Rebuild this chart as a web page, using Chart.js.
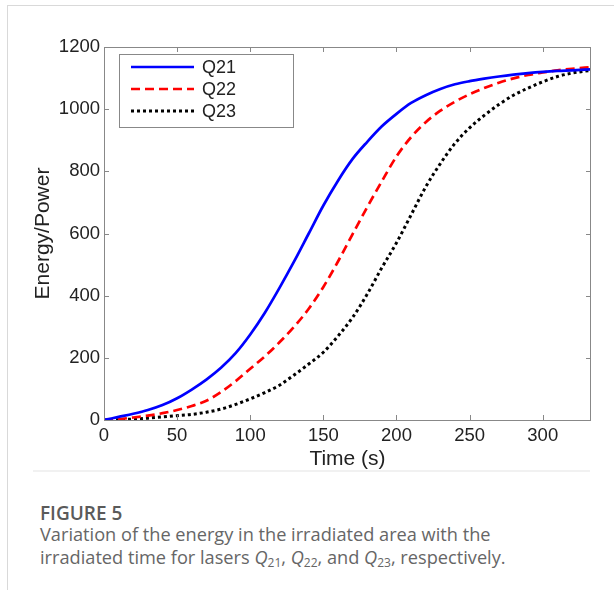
<!DOCTYPE html>
<html lang="en">
<head>
  <meta charset="UTF-8">
  <title>Figure 5 - Energy vs irradiated time</title>
  <script src="https://cdn.jsdelivr.net/npm/chart.js"></script>
  <style>
    body { margin: 0; background: #fff; width: 614px; height: 590px; overflow: hidden; position: relative; }
    .frame { position: absolute; left: 7px; top: 5px; right: 0; bottom: 0; border-left: 1px solid #d9d9d9; border-top: 1px solid #d9d9d9; }
    #chartBox { position: absolute; left: 8px; top: 6px; width: 600px; height: 470px; }
    .sep { position: absolute; left: 33px; top: 470px; width: 557px; height: 2px; background: #f1f1f1; }
    .caption { position: absolute; left: 40px; top: 503px; font-family: "Open Sans", sans-serif; color: #666; font-size: 18.2px; line-height: 23px; }
    .caption b { display: block; color: #5a5a5a; font-weight: 600; font-size: 19px; line-height: 20px; }
    .caption i { font-style: italic; }
    .caption sub { font-size: 12px; vertical-align: -3px; line-height: 0; }
  </style>
</head>
<body>
  <div class="frame"></div>
  <div id="chartBox"><canvas id="energyChart" width="600" height="470"></canvas></div>
  <div class="sep"></div>
  <div class="caption">
    <b>FIGURE 5</b>
    Variation of the energy in the irradiated area with the<br>
    irradiated time for lasers <i>Q</i><sub>21</sub>, <i>Q</i><sub>22</sub>, and <i>Q</i><sub>23</sub>, respectively.
  </div>
  <script>
    // values (time in s)
    const times = [0, 10, 20, 30, 40, 50, 60, 70, 80, 90, 100, 110, 120, 130, 140, 150, 160, 170,
                   180, 190, 200, 210, 220, 230, 240, 250, 260, 270, 280, 290, 300, 310, 320, 333];
    const q21 = [0, 10, 20, 32, 48, 70, 98, 130, 168, 215, 275, 345, 425, 510, 600, 690, 770, 840,
                 895, 945, 985, 1020, 1045, 1065, 1080, 1090, 1098, 1105, 1111, 1116, 1120, 1123, 1125, 1128];
    const q22 = [0, 3, 8, 14, 22, 32, 45, 62, 90, 125, 165, 205, 250, 300, 358, 428, 510, 598,
                 685, 768, 848, 910, 958, 995, 1024, 1048, 1068, 1085, 1099, 1110, 1118, 1125, 1130, 1135];
    const q23 = [0, 1, 3, 6, 10, 14, 18, 25, 35, 50, 68, 88, 112, 145, 180, 218, 270, 330,
                 405, 490, 570, 660, 750, 825, 890, 940, 980, 1015, 1045, 1068, 1088, 1105, 1116, 1125];
    const seriesNames = ['Q21', 'Q22', 'Q23'];
    const xTicks = [0, 50, 100, 150, 200, 250, 300];
    const yTicks = [0, 200, 400, 600, 800, 1000, 1200];

    const toPoints = (vals) => vals.map((v, i) => ({ x: times[i], y: v }));
    const fontFamily = 'Liberation Sans, Arial, sans-serif';
    const axisFont = { family: fontFamily, size: 18.5 };
    const titleFont = { family: fontFamily, size: 21 };

    // matlab style box with inward ticks, legend inside the axes
    const boxPlugin = {
      id: 'boxTicks',
      afterDraw(chart) {
        const ctx = chart.ctx;
        const a = chart.chartArea;
        const xs = chart.scales.x, ys = chart.scales.y;
        ctx.save();
        ctx.strokeStyle = '#888';
        ctx.lineWidth = 1;
        ctx.strokeRect(a.left + 0.5, a.top + 0.5, a.right - a.left - 1, a.bottom - a.top);
        ctx.beginPath();
        xTicks.forEach(t => {
          const px = Math.round(xs.getPixelForValue(t)) + 0.5;
          ctx.moveTo(px, a.bottom); ctx.lineTo(px, a.bottom - 5);
          ctx.moveTo(px, a.top); ctx.lineTo(px, a.top + 5);
        });
        yTicks.forEach(t => {
          const py = Math.round(ys.getPixelForValue(t)) + 0.5;
          ctx.moveTo(a.left, py); ctx.lineTo(a.left + 5, py);
          ctx.moveTo(a.right, py); ctx.lineTo(a.right - 5, py);
        });
        ctx.stroke();

        // legend
        const lx = a.left + 15, ly = a.top + 7, lw = 174, lh = 73;
        ctx.fillStyle = '#fff';
        ctx.fillRect(lx, ly, lw, lh);
        ctx.strokeStyle = '#888';
        ctx.strokeRect(lx + 0.5, ly + 0.5, lw, lh);
        ctx.font = '18px ' + fontFamily;
        ctx.textBaseline = 'middle';
        chart.data.datasets.forEach((ds, i) => {
          const ry = ly + 13 + i * 22;
          ctx.strokeStyle = ds.borderColor;
          ctx.lineWidth = ds.borderWidth;
          ctx.setLineDash(ds.borderDash || []);
          ctx.beginPath();
          ctx.moveTo(lx + 12, ry); ctx.lineTo(lx + 75, ry);
          ctx.stroke();
          ctx.setLineDash([]);
          ctx.fillStyle = '#222';
          ctx.fillText(ds.label, lx + 83, ry + 1);
        });
        ctx.restore();
      }
    };

    const ctx = document.getElementById('energyChart').getContext('2d');
    new Chart(ctx, {
      type: 'line',
      data: {
        datasets: [
          { label: seriesNames[0], data: toPoints(q21), borderColor: '#0000ff', borderWidth: 2.7, borderDash: [] },
          { label: seriesNames[1], data: toPoints(q22), borderColor: '#ff0000', borderWidth: 2.7, borderDash: [9, 5] },
          { label: seriesNames[2], data: toPoints(q23), borderColor: '#000000', borderWidth: 3, borderDash: [3, 3] }
        ]
      },
      options: {
        responsive: false,
        animation: false,
        layout: { padding: { left: 0, top: 41, right: 17, bottom: 0 } },
        elements: { point: { radius: 0 }, line: { cubicInterpolationMode: 'monotone', fill: false } },
        plugins: { legend: { display: false }, tooltip: { enabled: false } },
        scales: {
          x: {
            type: 'linear',
            min: 0, max: 333,
            afterFit(scale) { scale.height = 56; },
            afterBuildTicks(scale) { scale.ticks = xTicks.map(v => ({ value: v })); },
            grid: { display: false, drawTicks: false },
            border: { display: false },
            ticks: { font: axisFont, color: '#222', padding: 5, maxRotation: 0, callback: v => String(v) },
            title: { display: true, text: 'Time (s)', font: titleFont, color: '#222', padding: { top: 0, bottom: 4 } }
          },
          y: {
            min: 0, max: 1200,
            afterFit(scale) { scale.width = 96; },
            afterBuildTicks(scale) { scale.ticks = yTicks.map(v => ({ value: v })); },
            grid: { display: false, drawTicks: false },
            border: { display: false },
            ticks: { font: axisFont, color: '#222', padding: 4, callback: v => String(v) },
            title: { display: true, text: 'Energy/Power', font: titleFont, color: '#222', padding: { top: 23, bottom: 0 } }
          }
        }
      },
      plugins: [boxPlugin]
    });
  </script>
</body>
</html>
